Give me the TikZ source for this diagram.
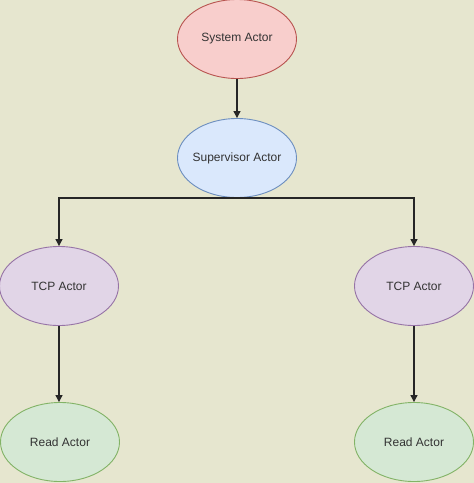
\documentclass[tikz,border=0pt]{standalone}
\usepackage{fontspec}
\setmainfont{Liberation Sans}
\usetikzlibrary{shapes.geometric,arrows.meta}
\definecolor{bgc}{RGB}{230,230,207}
\definecolor{redf}{HTML}{F8CECC}\definecolor{redd}{HTML}{B85450}
\definecolor{bluef}{HTML}{DAE8FC}\definecolor{blued}{HTML}{6C8EBF}
\definecolor{purf}{HTML}{E1D5E7}\definecolor{purd}{HTML}{9673A6}
\definecolor{grnf}{HTML}{D5E8D4}\definecolor{grnd}{HTML}{82B366}
\newcommand\actortext[1]{\makebox[60pt][c]{#1}}
\tikzset{
  actor/.style={ellipse, minimum width=119pt, minimum height=79pt, inner sep=0pt, line width=0.9pt, font=\fontsize{12pt}{14pt}\selectfont, text=black!80},
  sysactor/.style={actor, draw=redd, fill=redf},
  supactor/.style={actor, draw=blued, fill=bluef},
  tcpactor/.style={actor, draw=purd, fill=purf},
  readactor/.style={actor, draw=grnd, fill=grnf},
  conn/.style={line width=1.2pt, draw=black!85, -{Triangle[length=7pt,width=7pt]}}
}
\begin{document}
\begin{tikzpicture}[x=1pt,y=-1pt]
\useasboundingbox (0,0) rectangle (474,483);
\fill[bgc] (0,0) rectangle (474,483);
\begin{scope}
\clip (0,0) rectangle (474,483);
\node[sysactor] (sys) at (237,39) {\actortext{System Actor}};
\node[supactor] (sup) at (237,158) {\actortext{Supervisor Actor}};
\node[tcpactor] (tcpl) at (59,286) {\actortext{TCP Actor}};
\node[tcpactor] (tcpr) at (414,286) {\actortext{TCP Actor}};
\node[readactor] (readl) at (60,442) {\actortext{Read Actor}};
\node[readactor] (readr) at (414,442) {\actortext{Read Actor}};
\draw[conn] (sys.south) -- (sup.north);
\draw[conn] (sup.south) -| (tcpl.north);
\draw[conn] (sup.south) -| (tcpr.north);
\draw[conn] (tcpl.south) -- (readl.north -| tcpl.south);
\draw[conn] (tcpr.south) -- (readr.north -| tcpr.south);
\end{scope}
\end{tikzpicture}
\end{document}
